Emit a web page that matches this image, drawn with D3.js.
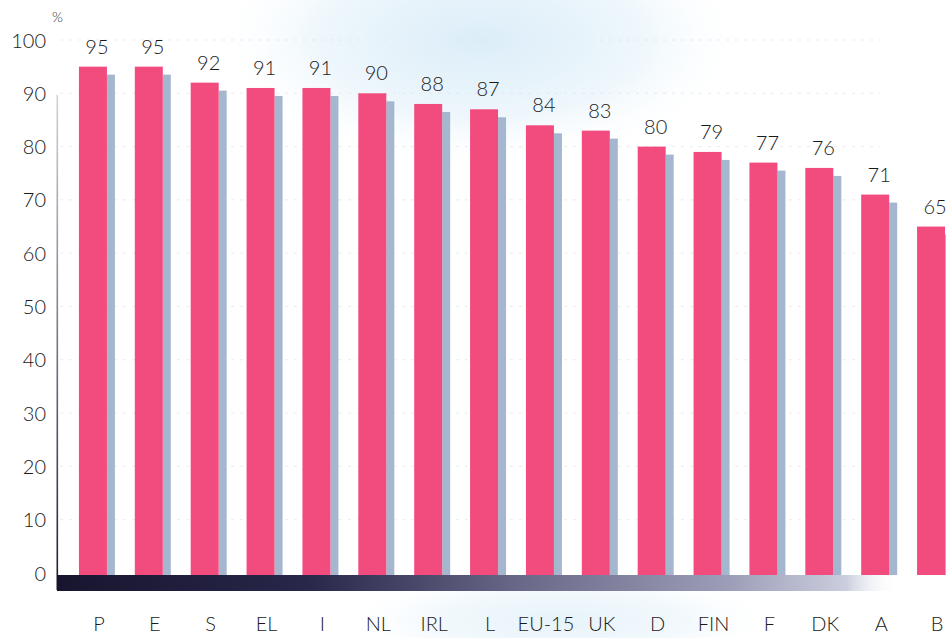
<!DOCTYPE html>
<html>
<head>
<meta charset="utf-8">
<script src="https://cdn.jsdelivr.net/npm/d3@7"></script>
<style>
html,body{margin:0;padding:0;background:#fff;}
svg{display:block;}
</style>
</head>
<body>
<svg id="chart" width="946" height="638"></svg>
<script>
const categories = ["P","E","S","EL","I","NL","IRL","L","EU-15","UK","D","FIN","F","DK","A","B"];
const values = [95,95,92,91,91,90,88,87,84,83,80,79,77,76,71,65];
const yTicks = [0,10,20,30,40,50,60,70,80,90,100];
const unitLabel = "%";

const W = 946, H = 638;
const FONT = "Lato, 'Open Sans', sans-serif";
const svg = d3.select("#chart");
const defs = svg.append("defs");

// background glow
const rg = defs.append("radialGradient").attr("id","glow")
  .attr("cx","0.5").attr("cy","0.5").attr("r","0.5");
rg.append("stop").attr("offset","0%").attr("stop-color","#dcedf8");
rg.append("stop").attr("offset","60%").attr("stop-color","#eef7fc");
rg.append("stop").attr("offset","100%").attr("stop-color","#ffffff").attr("stop-opacity",0);
svg.append("rect").attr("width",W).attr("height",H).attr("fill","#ffffff");
svg.append("ellipse").attr("cx",480).attr("cy",40).attr("rx",270).attr("ry",130).attr("fill","url(#glow)");
svg.append("ellipse").attr("cx",560).attr("cy",620).attr("rx",220).attr("ry",50).attr("fill","url(#glow)").attr("opacity",0.7);

const x = d3.scaleBand().domain(categories).range([71, 965]).padding(0);
const y = d3.scaleLinear().domain([0,100]).range([573, 40]);

// gridlines
svg.append("g").selectAll("line").data(yTicks.filter(d=>d>0)).join("line")
  .attr("x1",60).attr("x2",880)
  .attr("y1",d=>y(d)).attr("y2",d=>y(d))
  .attr("stroke","#dfe4ea").attr("stroke-width",1).attr("stroke-dasharray","3,6").attr("opacity",0.7);

// y axis labels
const yAxis = d3.axisLeft(y).tickValues(yTicks).tickSize(0).tickPadding(0);
const gy = svg.append("g").attr("transform","translate(46,0)").call(yAxis);
gy.select(".domain").remove();
gy.selectAll("text").attr("font-family",FONT).attr("font-weight",300)
  .attr("font-size",20).attr("fill","#1a1a1a").attr("dy","0.35em");

svg.append("text").attr("x",52).attr("y",22).text(unitLabel)
  .attr("font-family",FONT).attr("font-weight",300).attr("font-size",14).attr("fill","#333");

// vertical axis line
const vg = defs.append("linearGradient").attr("id","vline").attr("x1",0).attr("y1",0).attr("x2",0).attr("y2",1);
vg.append("stop").attr("offset","0%").attr("stop-color","#d0d4de");
vg.append("stop").attr("offset","100%").attr("stop-color","#1a1a30");
svg.append("rect").attr("x",56.5).attr("y",95).attr("width",1.6).attr("height",495).attr("fill","url(#vline)");

// bars
const bw = 28, sw = 8, off = -6;
const g = svg.append("g");
g.selectAll("rect.shadow").data(values).join("rect").attr("class","shadow")
  .attr("x",(d,i)=>x(categories[i]) + x.bandwidth()/2 + off + bw/2)
  .attr("y",d=>y(d)+8)
  .attr("width",sw)
  .attr("height",d=>y(0)-y(d)-8+2)
  .attr("fill","#a5b7ce");
g.selectAll("rect.bar").data(values).join("rect").attr("class","bar")
  .attr("x",(d,i)=>x(categories[i]) + x.bandwidth()/2 + off - bw/2)
  .attr("y",d=>y(d))
  .attr("width",bw)
  .attr("height",d=>y(0)-y(d)+2)
  .attr("fill","#f24c7f");

// value labels
g.selectAll("text.val").data(values).join("text").attr("class","val")
  .attr("x",(d,i)=>x(categories[i]) + x.bandwidth()/2 - 2)
  .attr("y",d=>y(d)-13)
  .attr("text-anchor","middle")
  .attr("font-family",FONT).attr("font-weight",300)
  .attr("font-size",20).attr("fill","#1a1a1a")
  .text(d=>d);

// base bar
const bg = defs.append("linearGradient").attr("id","base").attr("x1",0).attr("y1",0).attr("x2",1).attr("y2",0);
bg.append("stop").attr("offset","0%").attr("stop-color","#17152e");
bg.append("stop").attr("offset","30%").attr("stop-color","#29274a");
bg.append("stop").attr("offset","55%").attr("stop-color","#6a6888");
bg.append("stop").attr("offset","80%").attr("stop-color","#9c9eb8");
bg.append("stop").attr("offset","94%").attr("stop-color","#cbcedd");
bg.append("stop").attr("offset","100%").attr("stop-color","#ffffff").attr("stop-opacity",0);
svg.append("rect").attr("x",57).attr("y",575).attr("width",840).attr("height",16).attr("fill","url(#base)");

// category labels
const xAxis = d3.axisBottom(x).tickSize(0).tickPadding(0);
const gx = svg.append("g").attr("transform","translate(0,624)").call(xAxis);
gx.select(".domain").remove();
gx.selectAll("text").attr("font-family",FONT).attr("font-weight",300)
  .attr("font-size",20).attr("fill","#1a1a1a").attr("dy","0.35em");
</script>
</body>
</html>
